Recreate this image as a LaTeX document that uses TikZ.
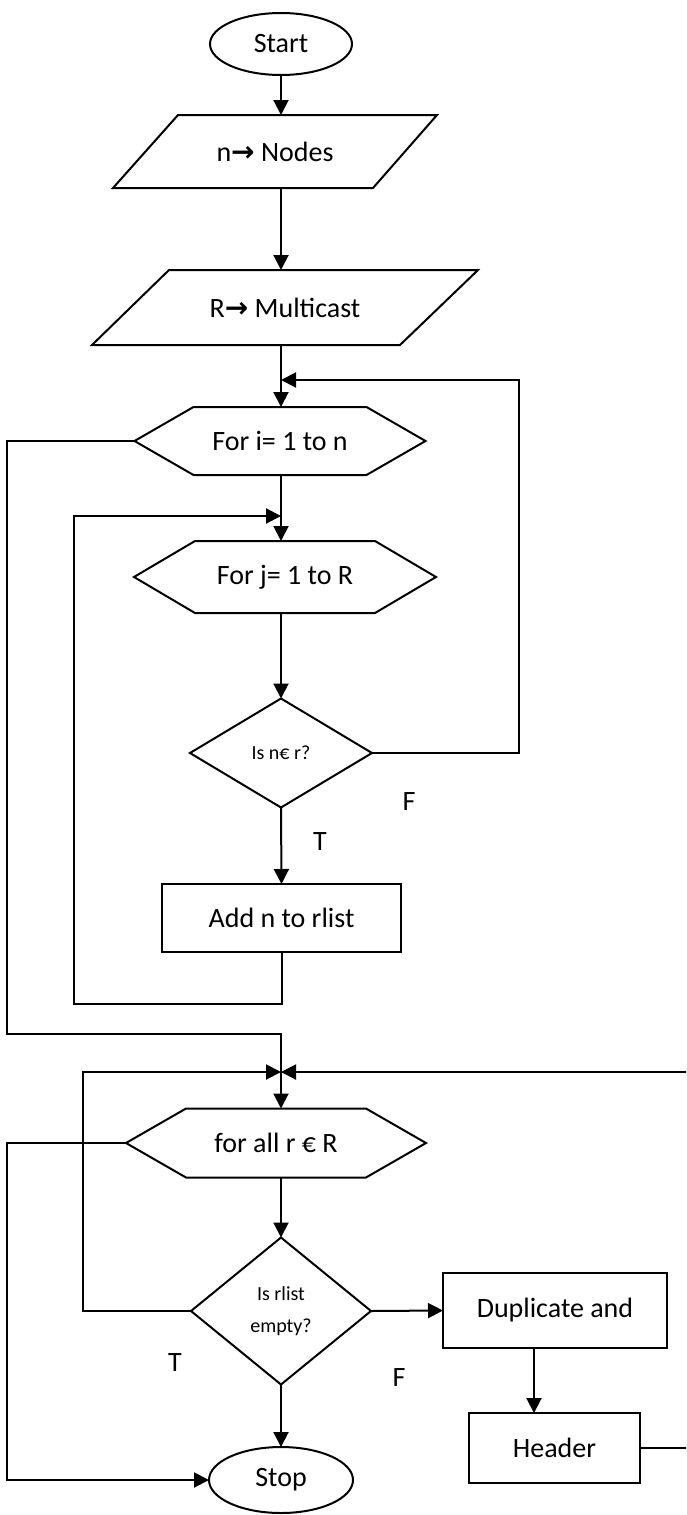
\documentclass[tikz,border=0pt]{standalone}
\usepackage{fontspec}
\setmainfont{Carlito}
\newfontfamily\arrowfont{DejaVu Sans}
\usetikzlibrary{shapes.geometric,arrows.meta}
\newcommand\hexpath[2]{\draw[ln] ([xshift=#2]#1.north west) -- ([xshift=-#2]#1.north east) -- (#1.east) -- ([xshift=-#2]#1.south east) -- ([xshift=#2]#1.south west) -- (#1.west) -- cycle;}
\newcommand\diapath[1]{\draw[ln] (#1.north) -- (#1.east) -- (#1.south) -- (#1.west) -- cycle;}
\begin{document}
\begin{tikzpicture}[x=1pt,y=-1pt,
  every node/.style={font=\fontsize{28}{33}\selectfont},
  ln/.style={line width=2pt},
  arr/.style={ln,-{Triangle[length=15pt,width=15pt]}},
  frame/.style={draw=none,inner sep=0pt,outer sep=0pt},
  oval/.style={ellipse,draw,line width=2pt,inner sep=0pt,outer sep=0pt},
  rbox/.style={rectangle,draw,line width=2pt,inner sep=0pt,outer sep=0pt},
  small/.style={font=\fontsize{20}{32}\selectfont,align=center},
]
\useasboundingbox (0,0) rectangle (686,1515);
\clip (0,0) rectangle (686,1515);
\coordinate (axis) at (281,0);

% nodes
\node[oval,minimum width=142pt,minimum height=62pt] (start) at (281,44) {Start};
\node[frame,minimum width=324pt,minimum height=73pt] (nodes) at (275,151.5) {n{\arrowfont\bfseries →} Nodes};
\draw[ln] (nodes.south west) -- ([xshift=-64pt]nodes.south east) -- (nodes.north east) -- ([xshift=65pt]nodes.north west) -- cycle;
\node[frame,minimum width=386pt,minimum height=75pt] (mcast) at (285,307.5) {R{\arrowfont\bfseries →} Multicast};
\draw[ln] (mcast.south west) -- ([xshift=-78pt]mcast.south east) -- (mcast.north east) -- ([xshift=77pt]mcast.north west) -- cycle;
\node[frame,minimum width=291pt,minimum height=68pt] (fori) at (280,441) {For i= 1 to n};
\hexpath{fori}{59pt}
\node[frame,minimum width=302pt,minimum height=72pt] (forj) at (285,577) {For j= 1 to R};
\hexpath{forj}{61pt}
\node[frame,small,minimum width=182pt,minimum height=109pt] (d1) at (281,753) {Is n€ r?};
\diapath{d1}
\node[rbox,minimum width=239pt,minimum height=68pt] (add) at (281.5,918) {Add n to rlist};
\node[frame,minimum width=300pt,minimum height=69pt] (forall) at (276,1143) {for all r € R};
\hexpath{forall}{60pt}
\node[frame,small,minimum width=180pt,minimum height=147pt] (d2) at (281,1311) {Is rlist\\empty?};
\diapath{d2}
\node[rbox,minimum width=224pt,minimum height=75pt] (dup) at (555,1310.5) {Duplicate and};
\node[rbox,minimum width=171pt,minimum height=70pt] (header) at (554.5,1448) {Header};
\node[oval,minimum width=144pt,minimum height=66pt] (stop) at (281,1480) {Stop};

% labels
\node (t1) at (320,842) {T};
\node (f1) at (409,802) {F};
\node (t2) at (175,1363) {T};
\node (f2) at (399,1377) {F};

% junction points
\coordinate (j1) at (281,380);
\coordinate (j2) at (281,516);
\coordinate (j3) at (281,1072);

% connectors
\draw[arr] (start.south) -- (axis |- nodes.north);
\draw[arr] (axis |- nodes.south) -- (axis |- mcast.north);
\draw[arr] (axis |- mcast.south) -- (axis |- fori.north);
\draw[arr] (d1.east) -- ++(147,0) |- (j1);
\draw[arr] (axis |- fori.south) -- (axis |- forj.north);
\draw[arr] (add.south) |- (74,1004) |- (j2);
\draw[arr] (axis |- forj.south) -- (d1.north);
\draw[arr] (d1.south) -- (add.north);
\draw[arr] (fori.west) -| (7,1034) -| (axis |- forall.north);
\draw[arr] (d2.west) -- ++(-108,0) |- (j3);
\draw[arr] (header.east) -- (720,1448) |- (j3);
\draw[arr] (forall.west) -- (7,1143) |- (stop.west);
\draw[arr] (axis |- forall.south) -- (d2.north);
\draw[arr] (d2.east) -- (dup.west);
\draw[arr] (d2.south) -- (stop.north);
\draw[arr] ([xshift=-21pt]dup.south) -- ([xshift=-21pt]dup.south |- header.north);
\end{tikzpicture}
\end{document}
